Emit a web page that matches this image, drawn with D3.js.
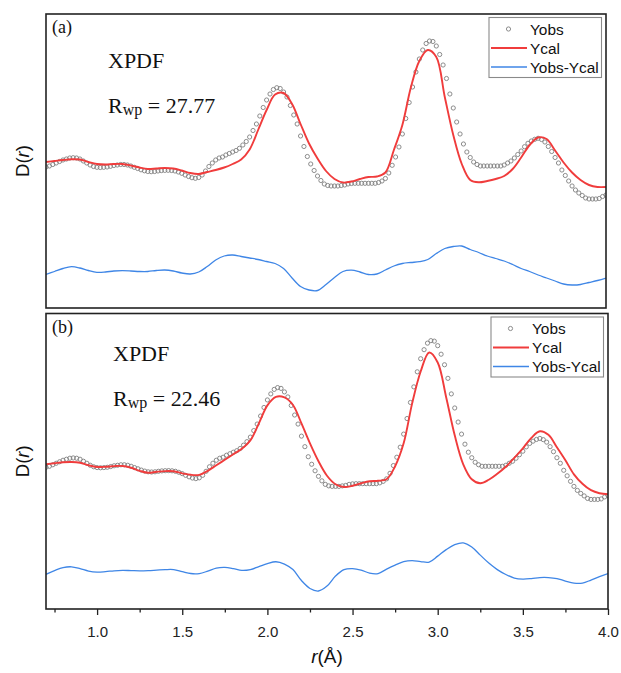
<!doctype html>
<html lang="en">

<head>
  <meta charset="UTF-8">
  <title>XPDF D(r) fit</title>
  <style type="text/css">
    * {
      padding: 0;
      margin: 0;
    }

    body {
      background: #fff;
    }

    .axis text {
      font-family: "Liberation Sans", Arial, sans-serif;
      font-size: 15px;
      fill: #222;
    }

    .axis line {
      stroke: #222;
      stroke-width: 1.3;
    }

    .serif {
      font-family: "Liberation Serif", "Times New Roman", serif;
      fill: #111;
    }

    .sans {
      font-family: "Liberation Sans", Arial, sans-serif;
      fill: #111;
    }
  </style>
  <script src="https://cdn.jsdelivr.net/npm/d3@7"></script>
</head>

<body>
  <svg width="621" height="673"></svg>

  <script>
    // observed D(r), one circle every 0.02 A from 0.70 to 4.00 (arbitrary units)
    var yObs = [
      141, 142, 143.5, 145, 146.5, 148, 149, 150, 150.3, 150,
      149, 147, 145, 143, 141.5, 140.7, 140.5, 140.7, 141, 141.7,
      142.5, 143, 143.5, 143.5, 143, 142, 140.7, 139.5, 138.2, 137.2,
      136.5, 136.3, 136.5, 137, 137.4, 137.6, 137.7, 137.5, 137, 136,
      134.7, 133, 131.5, 130.3, 129.7, 130.5, 133, 137, 141.5, 145,
      148, 150, 151, 153, 154.5, 156, 157.5, 159.7, 163, 166.5,
      171, 177.5, 184, 192, 200.5, 208, 214, 218.5, 220.3, 219.5,
      216, 211, 202.5, 193, 184, 172, 161.5, 151.5, 144, 137.5,
      132, 127.5, 124, 122.5, 122, 122, 122, 122.5, 123, 124,
      124.5, 124.7, 124.7, 124.7, 124.7, 124.7, 124.7, 124.7, 125.5, 127,
      129.5, 135, 142.7, 151, 161, 174, 189.5, 205.5, 221, 236,
      249, 258, 264.5, 267, 266.5, 262, 253.5, 243, 229.5, 214,
      200, 186, 174, 164, 156, 150.5, 146, 143.5, 142, 142,
      142, 142, 142, 142, 142, 143, 145, 147, 150, 153.5,
      157, 161.3, 164.7, 167, 168.7, 169.7, 168.5, 166, 161.5, 156.5,
      150.5, 145, 138, 132.5, 127, 122, 118, 115, 112.5, 110,
      109, 109, 109, 109.5, 111.5, 113
    ];

    // calculated curves and differences, every 0.05 A from 0.70 to 4.00
    var yCalA = [
      146, 147, 148, 148.7, 148.5, 146, 144, 143.5, 144, 144,
      142.5, 140.5, 139, 139.5, 140, 139.5, 137.5, 135, 134, 136,
      138, 140.5, 144, 148.5, 158.5, 178, 198, 213.5, 215, 204,
      184, 164.5, 149.5, 137, 129, 125.5, 126.5, 129, 131, 131.5,
      135.5, 158, 183, 220.5, 247, 258, 251, 211, 173, 144,
      128, 125.7, 127, 129, 132, 139, 150.5, 163, 170.5, 169,
      157.5, 145.5, 135.5, 128, 123, 121, 121
    ];
    var yDiffA = [
      33.5, 36.5, 39.5, 41.3, 40, 37.5, 35.7, 36, 37, 37.3,
      37, 36.5, 36.5, 37.5, 38, 37, 35, 34, 36, 41.5,
      48, 52, 53, 51.5, 50, 48.5, 46.5, 44.5, 39.5, 30,
      21.5, 18, 17.5, 23.5, 30.5, 36.5, 37.8, 36, 33.5, 34,
      38, 42, 44.5, 45.5, 46.3, 48.5, 54.5, 59.5, 61.5, 62,
      58.5, 55.5, 52, 49.5, 47, 43.5, 39.5, 36.5, 33, 30,
      27, 24, 23, 23.5, 25.5, 27.5, 30
    ];
    var yCalB = [
      144, 145, 146, 146.3, 145.5, 143, 141.3, 141.5, 142.2, 142.3,
      140.5, 137.5, 135.5, 136.5, 137.2, 137, 135, 133.5, 133.5, 137.5,
      143, 148.5, 154, 159.4, 167.8, 184.7, 202.6, 211, 210.5, 203,
      184.7, 164.8, 147, 132.6, 124.1, 121.4, 122.6, 125.1, 127.1, 127.6,
      129.1, 142, 164.8, 204.6, 236.3, 255.2, 245.3, 210.5, 172.8, 144,
      129.1, 125.1, 128.6, 134.5, 141.5, 150.4, 159.9, 170.3, 176.8, 173.3,
      160.9, 148, 134, 124.6, 118.2, 115.2, 114.2
    ];
    var yDiffB = [
      34.5, 38.2, 41.2, 42, 40.2, 37.7, 36.7, 37.2, 38, 38.4,
      38.2, 38, 38.2, 38.7, 39.2, 39.2, 37.2, 35.3, 35.3, 37.7,
      40.7, 41.4, 40.2, 38.4, 39.2, 42.2, 45.2, 47, 44.7, 39.2,
      28.3, 20.4, 17.9, 22.8, 32.8, 39.2, 40.2, 38.7, 35.7, 35.3,
      39.7, 43.7, 47.2, 48.2, 47.2, 46.7, 52.6, 59.1, 64, 65.8,
      61.6, 53.6, 45.7, 39.2, 34.3, 30.8, 29.8, 30.3, 31.3, 31.3,
      30.3, 27.8, 25.8, 25.8, 28.8, 32.3, 35.3
    ];

    var majorTicks = [1.0, 1.5, 2.0, 2.5, 3.0, 3.5, 4.0];
    var minorTicks = [0.75, 1.25, 1.75, 2.25, 2.75, 3.25, 3.75];
    var legendLabels = ["Yobs", "Ycal", "Yobs-Ycal"];
    var panelTags = ["(a)", "(b)"];
    var rwpValues = ["27.77", "22.46"];

    var rObs = yObs.map(function (d, i) { return +(0.7 + i * 0.02).toFixed(2); });
    var rCal = yCalA.map(function (d, i) { return +(0.7 + i * 0.05).toFixed(2); });

    var panels = [
      { top: 14, bottom: 308, right: 606, cal: yCalA, diff: yDiffA },
      { top: 313.5, bottom: 609, right: 608, cal: yCalB, diff: yDiffB }
    ];
    var left = 46;

    var colors = { obs: "#808080", cal: "#f03c3c", diff: "#3f86e6" };

    var svg = d3.select("svg");

    panels.forEach(function (p, pi) {
      var x = d3.scaleLinear().domain([0.7, 4.0]).range([left, p.right]);
      var y = d3.scaleLinear().domain([0, 294]).range([p.bottom, p.top]);

      var g = svg.append("g");

      var clipId = "clip" + pi;
      g.append("clipPath").attr("id", clipId)
        .append("rect")
        .attr("x", left).attr("y", p.top)
        .attr("width", p.right - left).attr("height", p.bottom - p.top);

      var plot = g.append("g").attr("clip-path", "url(#" + clipId + ")");

      var line = d3.line()
        .x(function (d) { return x(d[0]); })
        .y(function (d) { return y(d[1]); })
        .curve(d3.curveCatmullRom.alpha(0.5));

      plot.append("path")
        .datum(d3.zip(rCal, p.diff))
        .attr("d", line)
        .attr("fill", "none")
        .attr("stroke", colors.diff)
        .attr("stroke-width", 1.3);

      plot.selectAll("circle")
        .data(d3.zip(rObs, yObs))
        .enter()
        .append("circle")
        .attr("cx", function (d) { return x(d[0]); })
        .attr("cy", function (d) { return y(d[1]); })
        .attr("r", 2.1)
        .attr("fill", "none")
        .attr("stroke", colors.obs)
        .attr("stroke-width", 0.9);

      plot.append("path")
        .datum(d3.zip(rCal, p.cal))
        .attr("d", line)
        .attr("fill", "none")
        .attr("stroke", colors.cal)
        .attr("stroke-width", 1.9);

      // frame
      g.append("rect")
        .attr("x", left).attr("y", p.top)
        .attr("width", p.right - left).attr("height", p.bottom - p.top)
        .attr("fill", "none")
        .attr("stroke", "#222")
        .attr("stroke-width", 1.6);

      // annotations
      g.append("text").attr("class", "serif")
        .attr("x", left + 6).attr("y", p.top + 19)
        .style("font-size", "18px")
        .text(panelTags[pi]);

      var tx = pi === 0 ? 108 : 113;
      var ty = pi === 0 ? 68 : 361;
      g.append("text").attr("class", "serif")
        .attr("x", tx).attr("y", ty)
        .style("font-size", "22px")
        .text("XPDF");

      var rw = g.append("text").attr("class", "serif")
        .attr("x", tx).attr("y", ty + 45)
        .style("font-size", "22px");
      rw.append("tspan").text("R");
      rw.append("tspan").attr("dy", 1.5).style("font-size", "16px").text("wp");
      rw.append("tspan").attr("dy", -1.5).text(" = " + rwpValues[pi]);

      // y label
      svg.append("text").attr("class", "sans")
        .attr("transform", "translate(29," + ((p.top + p.bottom) / 2) + ") rotate(-90)")
        .attr("text-anchor", "middle")
        .style("font-size", "18.5px")
        .call(function (t) {
          t.append("tspan").text("D(");
          t.append("tspan").style("font-style", "italic").text("r");
          t.append("tspan").text(")");
        });

      // legend
      var lx = p.right - 117, ly = p.top + 3.5;
      var lg = g.append("g").attr("transform", "translate(" + lx + "," + ly + ")");
      lg.append("rect")
        .attr("width", 112.5).attr("height", 60)
        .attr("fill", "#fff")
        .attr("stroke", "#8a8a8a")
        .attr("stroke-width", 1.1);
      legendLabels.forEach(function (lab, i) {
        var cy = 11.5 + i * 19;
        if (i === 0) {
          lg.append("circle").attr("cx", 19.5).attr("cy", cy).attr("r", 2.1)
            .attr("fill", "none").attr("stroke", colors.obs).attr("stroke-width", 0.9);
        } else {
          lg.append("line").attr("x1", 2).attr("x2", 38).attr("y1", cy).attr("y2", cy)
            .attr("stroke", i === 1 ? colors.cal : colors.diff)
            .attr("stroke-width", i === 1 ? 1.9 : 1.3);
        }
        lg.append("text").attr("class", "sans")
          .attr("x", 41).attr("y", cy + 5.5)
          .style("font-size", "15.4px")
          .text(lab);
      });

      if (pi === 1) {
        var xAxis = d3.axisBottom(x)
          .tickValues(majorTicks)
          .tickSize(6)
          .tickPadding(11)
          .tickFormat(d3.format(".1f"));
        var xMinor = d3.axisBottom(x)
          .tickValues(minorTicks)
          .tickSize(3.5)
          .tickFormat("");

        var ax = g.append("g").attr("class", "axis")
          .attr("transform", "translate(0," + p.bottom + ")")
          .call(xAxis);
        ax.select(".domain").remove();
        var axm = g.append("g").attr("class", "axis")
          .attr("transform", "translate(0," + p.bottom + ")")
          .call(xMinor);
        axm.select(".domain").remove();

        svg.append("text").attr("class", "sans")
          .attr("x", (left + p.right) / 2).attr("y", 663)
          .attr("text-anchor", "middle")
          .style("font-size", "19px")
          .call(function (t) {
            t.append("tspan").style("font-style", "italic").text("r");
            t.append("tspan").text("(\u00c5)");
          });
      }
    });
  </script>
</body>

</html>
